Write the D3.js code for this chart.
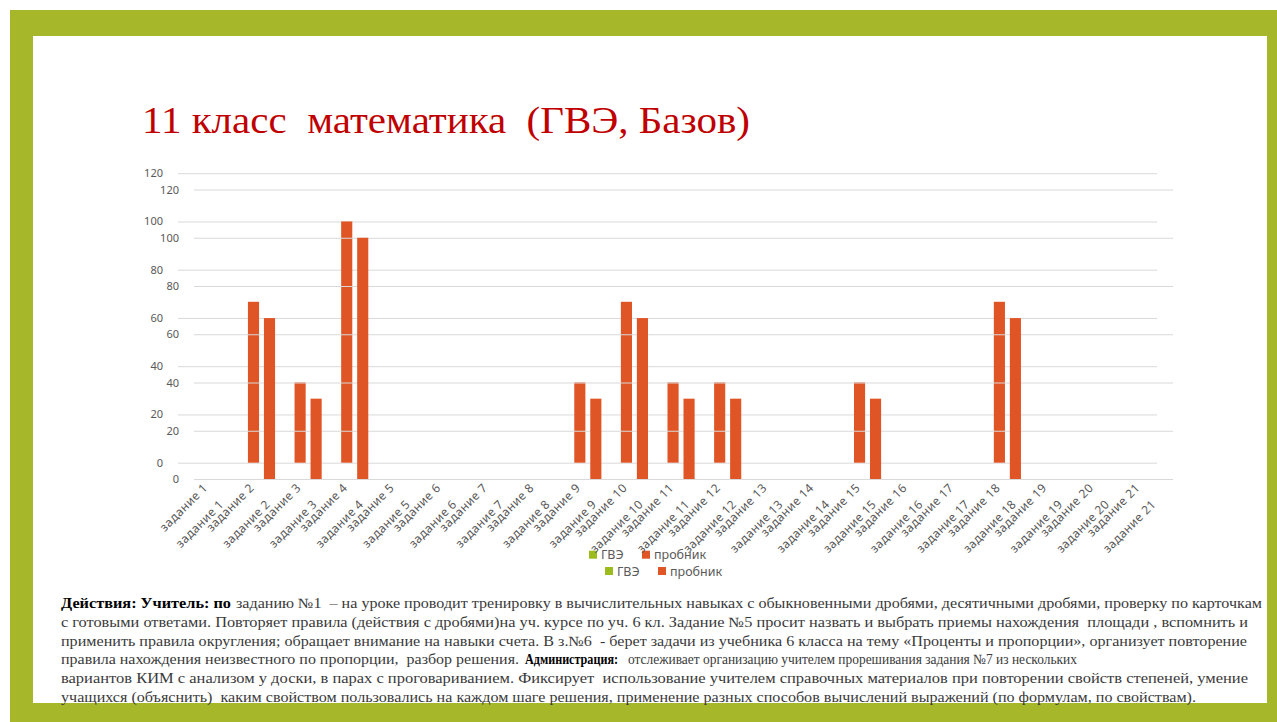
<!DOCTYPE html>
<html>
<head>
<meta charset="utf-8">
<script src="https://cdn.jsdelivr.net/npm/d3@7"></script>
<style>
  body { margin: 0; background: #fff; }
  .grid line { stroke: #d9d9d9; stroke-width: 1; }
  .ylab text, .xlab text { fill: #595959; font-family: "Noto Sans", sans-serif; }
  text { white-space: pre; }
</style>
</head>
<body>
<div id="slide"></div>
<script>
// 11 класс математика (ГВЭ, Базов) - slide with a pasted chart (twice, slightly offset)

var categories = ["задание 1", "задание 2", "задание 3", "задание 4", "задание 5", "задание 6",
  "задание 7", "задание 8", "задание 9", "задание 10", "задание 11", "задание 12", "задание 13",
  "задание 14", "задание 15", "задание 16", "задание 17", "задание 18", "задание 19",
  "задание 20", "задание 21"];
var seriesNames = ["ГВЭ", "пробник"];
var gve = [0, 0, 0, 0, 0, 0, 0, 0, 0, 0, 0, 0, 0, 0, 0, 0, 0, 0, 0, 0, 0];
var probnik = [0, 66.7, 33.3, 100, 0, 0, 0, 0, 33.3, 66.7, 33.3, 33.3, 0, 0, 33.3, 0, 0, 66.7, 0, 0, 0];
var yTicks = [0, 20, 40, 60, 80, 100, 120];
var seriesColors = ["#9bbb1f", "#e05526"];

// paragraph under the chart: each line is a list of [text, bold]
var textLines = [
  [["Действия: Учитель: по", true], ["заданию №1  – на уроке проводит тренировку в вычислительных навыках с обыкновенными дробями, десятичными дробями, проверку по карточкам", false]],
  [["с готовыми ответами. Повторяет правила (действия с дробями)на уч. курсе по уч. 6 кл. Задание №5 просит назвать и выбрать приемы нахождения  площади , вспомнить и", false]],
  [["применить правила округления; обращает внимание на навыки счета. В з.№6  - берет задачи из учебника 6 класса на тему «Проценты и пропорции», организует повторение", false]],
  [["правила нахождения неизвестного по пропорции,  разбор решения.", false], ["Администрация:", true], ["отслеживает организацию учителем прорешивания задания №7 из нескольких", false]],
  [["вариантов КИМ с анализом у доски, в парах с проговариванием. Фиксирует  использование учителем справочных материалов при повторении свойств степеней, умение", false]],
  [["учащихся (объяснить)  каким свойством пользовались на каждом шаге решения, применение разных способов вычислений выражений (по формулам, по свойствам).", false]]
];
// left / right edge of every piece
var pieceSpans = [
  [[61, 231], [236, 1262]],
  [[61, 1248]],
  [[61, 1247]],
  [[61, 519], [525, 618], [628, 1077]],
  [[61, 1248]],
  [[61, 1196]]
];

var W = 1277, H = 722;
var svg = d3.select("#slide").append("svg")
    .attr("width", W)
    .attr("height", H);

// frame
svg.append("rect").attr("x", 10).attr("y", 10).attr("width", W - 10).attr("height", H - 10).attr("fill", "#a6b82a");
svg.append("rect").attr("x", 33).attr("y", 36).attr("width", 1234).attr("height", 667).attr("fill", "#fff");

svg.append("text")
    .attr("x", 142)
    .attr("y", 133)
    .attr("xml:space", "preserve")
    .attr("textLength", 608)
    .attr("lengthAdjust", "spacingAndGlyphs")
    .style("font-family", "'Liberation Serif', serif")
    .style("font-size", "37px")
    .style("fill", "#c00000")
    .text("11 класс  математика  (ГВЭ, Базов)");

var plotW = 979, plotH = 289.5;

function drawChart(ox, oy) {
  var g = svg.append("g").attr("transform", "translate(" + ox + "," + oy + ")");

  var x = d3.scaleBand().domain(categories).range([0, plotW]);
  var xSub = d3.scaleBand().domain(seriesNames).range([0, x.bandwidth()]).paddingOuter(1.095);
  var y = d3.scaleLinear().domain([0, 120]).range([plotH, 0]);

  g.append("g")
      .attr("class", "grid ylab")
      .call(d3.axisLeft(y).tickValues(yTicks).tickSize(-plotW).tickPadding(15))
      .call(function(a) { a.select(".domain").remove(); })
      .selectAll("text").style("font-size", "11px");

  var cols = [gve, probnik];
  seriesNames.forEach(function(s, si) {
    g.selectAll(".bar" + si)
        .data(cols[si])
      .enter().append("rect")
        .attr("x", function(d, i) { return x(categories[i]) + xSub(s); })
        .attr("y", function(d) { return y(d); })
        .attr("width", xSub.bandwidth())
        .attr("height", function(d) { return plotH - y(d); })
        .attr("fill", seriesColors[si]);
  });

  g.append("g")
      .attr("class", "xlab")
      .attr("transform", "translate(0," + plotH + ")")
      .call(d3.axisBottom(x).tickSize(0).tickPadding(0))
      .call(function(a) { a.select(".domain").remove(); })
      .selectAll("text")
        .style("font-size", "12px")
        .style("letter-spacing", "0.4px")
        .style("text-anchor", "end")
        .attr("dy", 0)
        .attr("transform", "translate(7,26) rotate(-45)");

  // legend
  var lg = g.append("g").attr("transform", "translate(" + 411 + "," + (plotH + 92) + ")");
  var items = [{n: seriesNames[0], c: seriesColors[0], dx: 0}, {n: seriesNames[1], c: seriesColors[1], dx: 53}];
  items.forEach(function(it) {
    lg.append("rect").attr("x", it.dx).attr("y", -4).attr("width", 8).attr("height", 8).attr("fill", it.c);
    lg.append("text").attr("x", it.dx + 12).attr("y", 4.5)
        .style("font-family", "'Noto Sans', sans-serif").style("font-size", "12.5px").style("fill", "#595959")
        .text(it.n);
  });
}

drawChart(178, 173.2);
drawChart(194, 189.5);

// description text
textLines.forEach(function(parts, li) {
  parts.forEach(function(p, pi) {
    var span = pieceSpans[li][pi];
    svg.append("text")
        .attr("x", span[0])
        .attr("y", 608 + li * 18.8)
        .attr("xml:space", "preserve")
        .attr("textLength", span[1] - span[0])
        .attr("lengthAdjust", "spacingAndGlyphs")
        .style("font-family", "'Liberation Serif', serif")
        .style("font-size", "14px")
        .style("font-weight", p[1] ? "bold" : "normal")
        .style("fill", p[1] ? "#000" : "#3a3a3a")
        .text(p[0]);
  });
});
</script>
</body>
</html>
